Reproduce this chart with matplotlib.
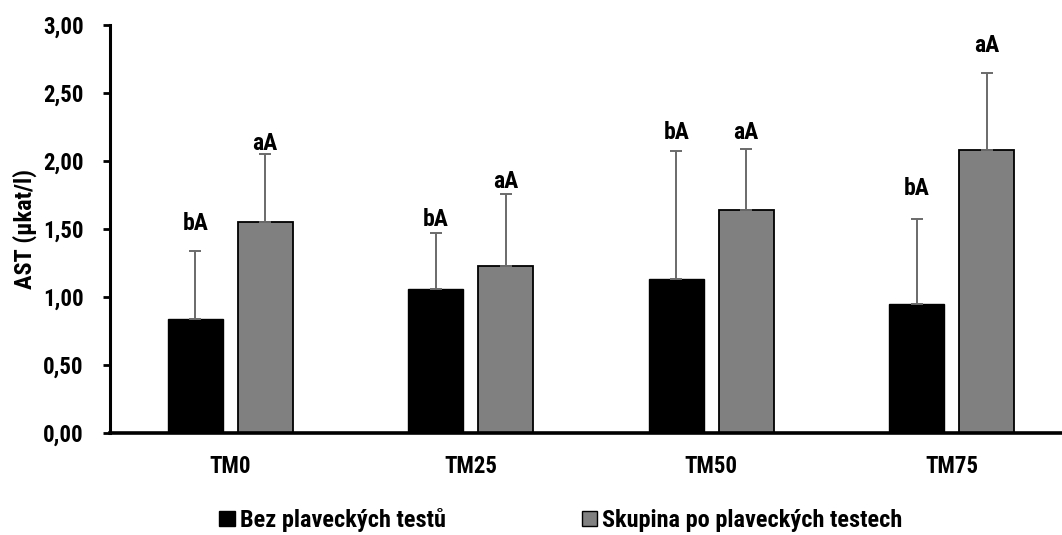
import matplotlib
matplotlib.use("Agg")
import matplotlib.pyplot as plt
from matplotlib import font_manager
import numpy as np

categories = ["TM0", "TM25", "TM50", "TM75"]
series_names = ["Bez plaveckých testů", "Skupina po plaveckých testech"]
bez_values = [0.84, 1.06, 1.13, 0.95]
bez_sd = [0.50, 0.41, 0.94, 0.62]
skup_values = [1.55, 1.23, 1.64, 2.08]
skup_sd = [0.50, 0.53, 0.45, 0.57]
bez_labels = ["bA", "bA", "bA", "bA"]
skup_labels = ["aA", "aA", "aA", "aA"]
bez_label_y = [1.54, 1.57, 2.21, 1.80]
skup_label_y = [2.13, 1.85, 2.21, 2.85]
yticks = [0.0, 0.5, 1.0, 1.5, 2.0, 2.5, 3.0]


def _w(f):
    w = f.weight
    if isinstance(w, str):
        return {"bold": 700, "heavy": 800, "black": 900, "semibold": 600,
                "demibold": 600, "extra bold": 800}.get(w.lower(), 400)
    return w


bold_names = {f.name for f in font_manager.fontManager.ttflist
              if 680 <= _w(f) <= 720 and f.style == "normal" and "[" not in f.fname}
prefs = ["Arial Narrow", "Liberation Sans Narrow", "Archivo Narrow", "Roboto Condensed",
         "PT Sans Narrow", "Arimo", "Liberation Sans"]
fam = next((p for p in prefs if p in bold_names), "Liberation Sans")
plt.rcParams['font.family'] = [fam, 'DejaVu Sans']
plt.rcParams['font.weight'] = 'bold'
narrow = fam not in ("Arimo", "Liberation Sans")
k = 1.0 if narrow else 0.85
FS_Y, FS_X, FS_LAB, FS_YL, FS_LEG = 16.5 * k, 16.5 * k, 17 * k, 17.5 * k, 17.5 * k

W, H = 1062, 535
fig = plt.figure(figsize=(W / 100, H / 100), dpi=100)
ax_left, ax_bottom, ax_top = 110, 433, 25
cat_w = 240.5
ax = fig.add_axes([ax_left / W, (H - ax_bottom) / H, 4 * cat_w / W, (ax_bottom - ax_top) / H])

x = np.arange(len(categories))
bw = 0.229
off = 0.1455
err_kw = dict(ecolor="#6a6a6a", elinewidth=1.4, capsize=4.5, capthick=1.4)
ax.bar(x - off, bez_values, bw, color="black", edgecolor="black", linewidth=1.0,
       yerr=[np.zeros(4), bez_sd], error_kw=err_kw, label=series_names[0], zorder=2)
ax.bar(x + off, skup_values, bw, color="#808080", edgecolor="black", linewidth=1.3,
       yerr=[np.zeros(4), skup_sd], error_kw=err_kw, label=series_names[1], zorder=2)

for i in range(len(categories)):
    ax.text(x[i] - off, bez_label_y[i], bez_labels[i], ha="center", va="center",
            fontsize=FS_LAB, fontweight="bold")
    ax.text(x[i] + off, skup_label_y[i], skup_labels[i], ha="center", va="center",
            fontsize=FS_LAB, fontweight="bold")

ax.set_xlim(-0.5, 3.5)
ax.set_ylim(0, 3)
ax.set_yticks(yticks)
ax.set_yticklabels([f"{v:.2f}".replace(".", ",") for v in yticks], fontsize=FS_Y, fontweight="bold")
ax.set_xticks(x)
ax.set_xticklabels(categories, fontsize=FS_X, fontweight="bold")
ax.tick_params(axis="x", length=0, pad=16)
ax.tick_params(axis="y", length=5, width=2, direction="out", pad=14)
for s in ["top", "right"]:
    ax.spines[s].set_visible(False)
ax.spines["left"].set_linewidth(2.2)
ax.spines["bottom"].set_linewidth(2.6)
ax.set_ylabel("AST (µkat/l)", fontsize=FS_YL, fontweight="bold", labelpad=4)

leg = fig.legend(loc="center", bbox_to_anchor=(561 / W, 1 - 520 / H), ncol=2, frameon=False,
                 handlelength=0.62, handleheight=0.62, handletextpad=0.22,
                 columnspacing=5.6, prop={"weight": "bold", "size": FS_LEG})
for h in leg.legend_handles:
    h.set_linewidth(1.0)

fig.savefig("out.png", dpi=100)
